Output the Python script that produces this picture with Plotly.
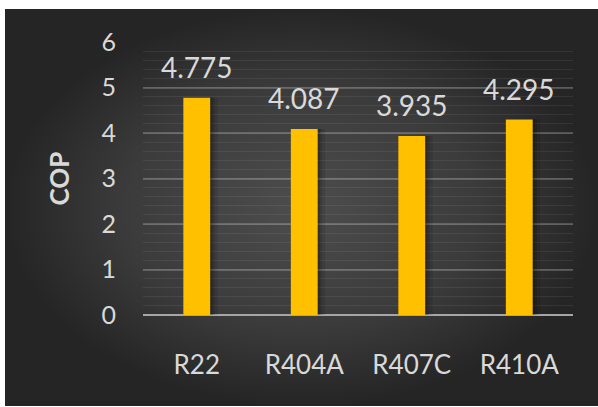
import plotly.graph_objects as go

categories = ["R22", "R404A", "R407C", "R410A"]
cop_values = [4.775, 4.087, 3.935, 4.295]
label_texts = ["4.775", "4.087", "3.935", "4.295"]
y_ticks = [0, 1, 2, 3, 4, 5, 6]

W, H = 598, 407
FONT = "Lato"
TXT = "#D9D9D9"

fig = go.Figure()

# background panel with radial gradient (full-paper axes)
fig.add_trace(go.Scatter(
    x=[5, 598, 598, 5, 5], y=[9, 9, 406, 406, 9],
    mode="lines", line=dict(width=0), fill="toself",
    fillgradient=dict(type="radial",
                      colorscale=[[0, "#4d4d4d"], [0.6, "#3b3b3b"], [1, "#252525"]]),
    hoverinfo="skip", showlegend=False, xaxis="x", yaxis="y"))

# soft shadows behind bars
for w, off, a in [(0.32, -0.125, 0.10), (0.29, -0.125, 0.12), (0.27, -0.125, 0.15)]:
    fig.add_trace(go.Bar(
        x=categories, y=cop_values, width=w, offset=off,
        marker=dict(color=f"rgba(0,0,0,{a})", line=dict(width=0)),
        xaxis="x2", yaxis="y2", showlegend=False, hoverinfo="skip"))

# bars
fig.add_trace(go.Bar(
    x=categories, y=cop_values, width=0.25, offset=-0.125,
    marker=dict(color="#FFC000", line=dict(width=0)),
    xaxis="x2", yaxis="y2", showlegend=False, hoverinfo="skip"))

for c, v, t in zip(categories, cop_values, label_texts):
    fig.add_annotation(x=c, y=v, xref="x2", yref="y2", text=t, showarrow=False,
                       yanchor="middle", yshift=31,
                       font=dict(family=FONT, size=28, color=TXT))

x0, x1 = 143 / W, 573 / W
y0, y1 = 1 - 315 / H, 1 - 42 / H

fig.update_layout(
    width=W, height=H,
    margin=dict(l=0, r=0, t=0, b=0, autoexpand=False),
    paper_bgcolor="white", plot_bgcolor="rgba(0,0,0,0)",
    barmode="overlay",
    xaxis=dict(domain=[0, 1], range=[0, W], visible=False, fixedrange=True, automargin=False),
    yaxis=dict(domain=[0, 1], range=[H, 0], visible=False, fixedrange=True, automargin=False),
    xaxis2=dict(domain=[x0, x1], anchor="y2", showgrid=False, zeroline=False,
                range=[-0.5, 3.5],
                showline=False, ticks="", ticklabelstandoff=32, automargin=False,
                tickfont=dict(family=FONT, size=26, color=TXT)),
    yaxis2=dict(domain=[y0, y1], anchor="x2", range=[0, 6], tickvals=y_ticks,
                automargin=False,
                showgrid=True, gridcolor="rgba(255,255,255,0.2)", gridwidth=1.5,
                minor=dict(dtick=0.2, showgrid=True, gridcolor="rgba(255,255,255,0.07)", gridwidth=1),
                zeroline=True, zerolinecolor="#A6A6A6", zerolinewidth=2,
                showline=False, ticks="", ticklabelstandoff=26,
                tickfont=dict(family=FONT, size=25, color=TXT),
                title=dict(text="<b>COP</b>", standoff=24,
                           font=dict(family=FONT, size=26, color=TXT))),
)

fig.write_html("out.html")
